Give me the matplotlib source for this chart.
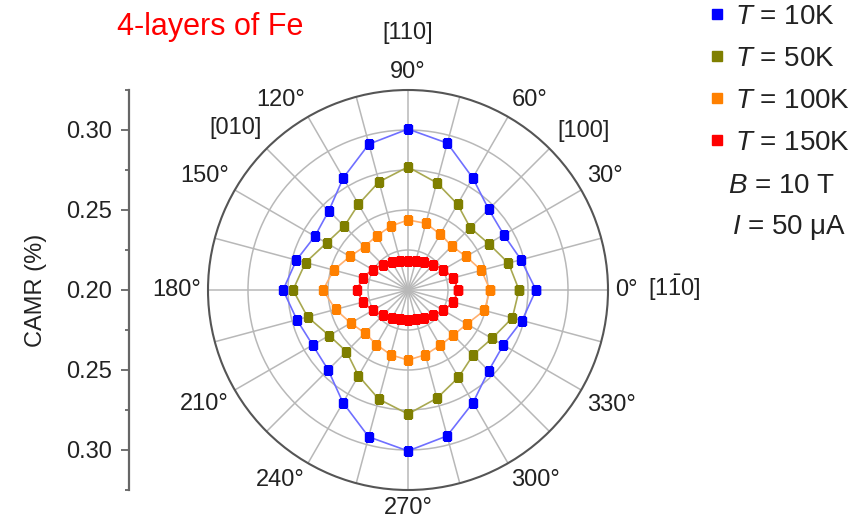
import numpy as np
import matplotlib
matplotlib.use("Agg")
import matplotlib.pyplot as plt
from matplotlib.lines import Line2D
from matplotlib.ticker import FixedLocator, FuncFormatter

plt.rcParams['font.family'] = ['Liberation Sans', 'DejaVu Sans']
plt.rcParams['mathtext.fontset'] = 'custom'
plt.rcParams['mathtext.rm'] = 'Liberation Sans'
plt.rcParams['mathtext.it'] = 'Liberation Sans:italic'

# field angle (deg), one point every 15 deg
angles = np.arange(0, 360, 15)

# CAMR (%)
camr_10k = [0.280, 0.2731, 0.2691, 0.2713, 0.2809, 0.2950, 0.3006, 0.2944,
            0.2809, 0.2700, 0.2672, 0.2722, 0.2781, 0.2719, 0.2688, 0.2706,
            0.2813, 0.2950, 0.3006, 0.2944, 0.2813, 0.2713, 0.2688, 0.2738]
camr_50k = [0.2694, 0.2650, 0.2581, 0.2550, 0.2619, 0.2694, 0.2769, 0.2700,
            0.2619, 0.2563, 0.2588, 0.2663, 0.2719, 0.2650, 0.2569, 0.2544,
            0.2619, 0.2706, 0.2775, 0.2700, 0.2631, 0.2575, 0.2606, 0.2675]
camr_100k = [0.2513, 0.2475, 0.2419, 0.2388, 0.2403, 0.2431, 0.2438, 0.2413,
             0.2391, 0.2384, 0.2419, 0.2481, 0.2531, 0.2469, 0.2413, 0.2381,
             0.2394, 0.2419, 0.2438, 0.2419, 0.2400, 0.2400, 0.2425, 0.2494]
camr_150k = [0.2313, 0.2294, 0.2256, 0.2225, 0.2200, 0.2188, 0.2181, 0.2188,
             0.2200, 0.2225, 0.2256, 0.2294, 0.2319, 0.2294, 0.2256, 0.2225,
             0.2200, 0.2188, 0.2188, 0.2188, 0.2200, 0.2225, 0.2256, 0.2294]

series = [camr_10k, camr_50k, camr_100k, camr_150k]
labels = [r'$T$ = 10K', r'$T$ = 50K', r'$T$ = 100K', r'$T$ = 150K']
marker_colors = ['#0000ff', '#7f7f00', '#ff8000', '#ff0000']
line_colors = ['#6f6fff', '#a8a850', '#ffb070', '#ff4040']

label_angles = np.arange(0, 360, 30)
label_texts = [f'{a}°' for a in label_angles]

r_min, r_max = 0.20, 0.325
left_ticks = [-0.10, -0.05, 0.0, 0.05, 0.10]

W, H = 861, 520
fig = plt.figure(figsize=(W / 100, H / 100), dpi=100)

# polar axes: center at (408, 290) px, radius 200 px
ax = fig.add_axes([208 / W, 30 / H, 400 / W, 400 / H], projection='polar')
ax.set_ylim(r_min, r_max)
ax.set_xticks(np.deg2rad(angles))
ax.set_xticklabels([])
ax.set_yticks([0.225, 0.25, 0.275, 0.30])
ax.set_yticklabels([])
ax.grid(True, color='#b8b8b8', linewidth=1.1)
ax.spines['polar'].set_color('#555555')
ax.spines['polar'].set_linewidth(1.5)

# angle labels sit just outside the circle, aligned away from it
r_lab = r_max + 7 / 1600
for a, t in zip(label_angles, label_texts):
    c, s = np.cos(np.deg2rad(a)), np.sin(np.deg2rad(a))
    ha = 'left' if c > 0.1 else ('right' if c < -0.1 else 'center')
    va = 'bottom' if s > 0.1 else ('top' if s < -0.1 else 'center')
    ax.text(np.deg2rad(a), r_lab, t, ha=ha, va=va, fontsize=17,
            color='#222222', clip_on=False)

for vals, mc, lc in zip(series, marker_colors, line_colors):
    th = np.deg2rad(np.append(angles, angles[0]))
    rr = np.append(vals, vals[0])
    ax.plot(th, rr, color=lc, linewidth=1.2, zorder=3)
    ax.plot(th, rr, linestyle='none', marker='s', markersize=5.5,
            color=mc, zorder=4)

# crystal directions next to the angle labels
def px(x, y):
    return x / W, 1 - y / H

dir_kw = dict(fontsize=17, color='#222222', ha='center', va='center')
fig.text(*px(408, 33), '[110]', **dir_kw)
fig.text(*px(236, 128), '[010]', **dir_kw)
fig.text(*px(584, 131), '[100]', **dir_kw)
fig.text(*px(674, 288), r'[1$\bar{1}$0]', **dir_kw)

# left mirrored CAMR axis
axl = fig.add_axes([129 / W, 30 / H, 0.001, 400 / H])
axl.set_ylim(-(r_max - r_min), r_max - r_min)
axl.yaxis.set_major_locator(FixedLocator(left_ticks))
axl.yaxis.set_minor_locator(FixedLocator([-0.125, -0.075, -0.025, 0.025, 0.075, 0.125]))
axl.yaxis.set_major_formatter(FuncFormatter(lambda v, p: f'{r_min + abs(v):.2f}'))
axl.set_xticks([])
for s in ['top', 'right', 'bottom']:
    axl.spines[s].set_visible(False)
axl.spines['left'].set_color('#666666')
axl.spines['left'].set_linewidth(1.6)
axl.tick_params(axis='y', which='major', length=6, width=1.3, colors='#666666',
                labelcolor='#222222', labelsize=17, pad=6)
axl.tick_params(axis='y', which='minor', length=3, width=1.3, colors='#666666')
axl.set_ylabel('CAMR (%)', fontsize=17, color='#222222', labelpad=14)
axl.patch.set_visible(False)

# title
fig.text(*px(210, 27), '4-layers of Fe', fontsize=22, color='#ff0000',
         ha='center', va='center')

# legend
handles = [Line2D([], [], linestyle='none', marker='s', markersize=7, color=c)
           for c in marker_colors]
fig.legend(handles, labels, loc='upper left', bbox_to_anchor=(700 / W, 1 + 2 / H),
           frameon=False, fontsize=20, handlelength=0.8, handletextpad=0.27,
           labelspacing=0.58, borderpad=0.2, borderaxespad=0,
           labelcolor='#222222')
fig.text(*px(728, 186), r'$B$ = 10 T', fontsize=20, color='#222222', va='center')
fig.text(*px(732, 228), r'$I$ = 50 μA', fontsize=20, color='#222222', va='center')

fig.savefig('out.png', dpi=100)
